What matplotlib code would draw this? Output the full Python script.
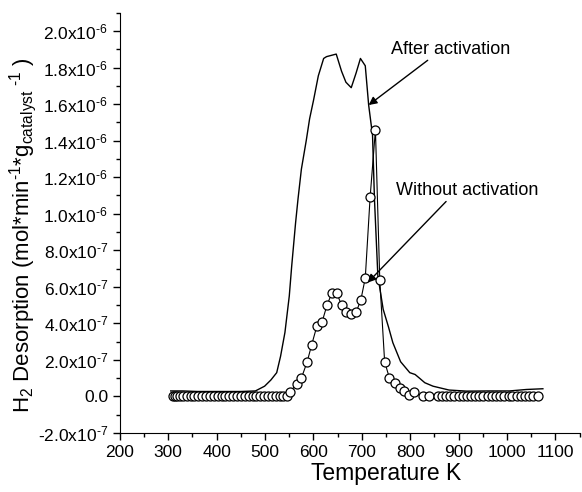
import matplotlib
matplotlib.use('Agg')
import matplotlib.pyplot as plt
from matplotlib.ticker import MultipleLocator, FuncFormatter

# 字体设置
plt.rcParams['font.family'] = ['Liberation Sans', 'DejaVu Sans']
plt.rcParams['mathtext.fontset'] = 'custom'
plt.rcParams['mathtext.rm'] = 'Liberation Sans'
plt.rcParams['mathtext.it'] = 'Liberation Sans'
plt.rcParams['mathtext.default'] = 'regular'
plt.rcParams['axes.unicode_minus'] = False

# 活化后 (实线)
after_T = [305, 330, 360, 400, 450, 480, 499, 512, 524, 532, 541, 550, 555, 563, 568, 575,
           585, 592, 600, 610, 621, 627, 647, 658, 667, 678, 688, 697, 707, 714, 722, 726,
           733, 744, 755, 764, 780, 799, 810, 819, 830, 847, 880, 916, 960, 1005, 1040, 1074]
after_H = [0.030e-6, 0.030e-6, 0.027e-6, 0.027e-6, 0.027e-6, 0.030e-6, 0.056e-6, 0.09e-6,
           0.13e-6, 0.22e-6, 0.35e-6, 0.55e-6, 0.714e-6, 0.95e-6, 1.08e-6, 1.244e-6,
           1.40e-6, 1.52e-6, 1.62e-6, 1.755e-6, 1.85e-6, 1.86e-6, 1.874e-6, 1.78e-6,
           1.72e-6, 1.69e-6, 1.77e-6, 1.85e-6, 1.81e-6, 1.595e-6, 1.43e-6, 1.08e-6,
           0.66e-6, 0.477e-6, 0.38e-6, 0.294e-6, 0.19e-6, 0.13e-6, 0.12e-6, 0.10e-6,
           0.075e-6, 0.056e-6, 0.035e-6, 0.029e-6, 0.030e-6, 0.030e-6, 0.038e-6, 0.042e-6]

# 未活化 (圆圈)
before_T = [310, 314, 319, 324, 330, 338, 346, 354, 362, 370, 378, 386, 394, 402, 410, 418,
            426, 434, 442, 450, 458, 466, 474, 482, 490, 498, 506, 514, 522, 530, 538, 545,
            552, 565, 575, 587, 596, 607, 618, 628, 638, 648, 658, 668, 677, 688, 698, 707,
            717, 728, 737, 747, 757, 768, 778, 788, 797, 807, 826, 838,
            857, 866, 874, 883, 891, 900, 909, 917, 926, 934, 943, 951, 960, 969, 977, 986,
            994, 1003, 1011, 1020, 1029, 1037, 1046, 1054, 1063]
before_H = [0.005e-6, 0.005e-6, 0.004e-6, 0.003e-6, 0.002e-6, 0, 0, 0, 0, 0, 0, 0, 0, 0, 0, 0,
            0, 0, 0, 0, 0, 0, 0, 0, 0, 0, 0, 0, 0, 0, 0, 0,
            0.024e-6, 0.07e-6, 0.10e-6, 0.19e-6, 0.28e-6, 0.385e-6, 0.41e-6, 0.50e-6,
            0.566e-6, 0.566e-6, 0.50e-6, 0.46e-6, 0.453e-6, 0.46e-6, 0.53e-6, 0.648e-6,
            1.09e-6, 1.46e-6, 0.635e-6, 0.19e-6, 0.10e-6, 0.075e-6, 0.048e-6, 0.03e-6,
            0.01e-6, 0.024e-6, 0, 0,
            0, 0, 0, 0, 0, 0, 0, 0, 0, 0, 0, 0, 0, 0, 0, 0,
            0, 0, 0, 0, 0, 0, 0, 0, 0]

fig = plt.figure(figsize=(5.82, 4.92), dpi=100)
ax = fig.add_axes([0.206, 0.12, 0.79, 0.854])

ax.plot(after_T, after_H, color='black', lw=1.0)
ax.plot(before_T, before_H, color='black', lw=0.8, marker='o', markersize=6.5,
        markerfacecolor='white', markeredgecolor='black', markeredgewidth=0.9)

ax.set_xlim(200, 1150)
ax.set_ylim(-2.0e-7, 2.1e-6)

ax.xaxis.set_major_locator(MultipleLocator(100))
ax.xaxis.set_minor_locator(MultipleLocator(50))
ax.yaxis.set_major_locator(MultipleLocator(2e-7))
ax.yaxis.set_minor_locator(MultipleLocator(1e-7))


def sci_fmt(v, pos):
    if abs(v) < 1e-12:
        return '0.0'
    exp = int(f'{v:e}'.split('e')[1])
    mant = v / 10 ** exp
    return f'{mant:.1f}x10$^{{\\text{{{exp}}}}}$'


ax.yaxis.set_major_formatter(FuncFormatter(sci_fmt))

for s in ['top', 'right']:
    ax.spines[s].set_visible(False)
ax.tick_params(which='major', direction='out', length=5, width=1, labelsize=12.5)
ax.tick_params(which='minor', direction='out', length=3, width=1)

ax.set_xlabel('Temperature K', fontsize=16.5)
ax.xaxis.set_label_coords(0.58, -0.068)
ax.set_ylabel('H$_2$ Desorption (mol*min$^{\\text{-1}}$*g$_{catalyst}$$^{\\text{ -1}}$ )', fontsize=16)
ax.yaxis.set_label_coords(-0.175, 0.47)

arrow = dict(arrowstyle='-|>', color='black', lw=1.0, mutation_scale=12, shrinkA=0, shrinkB=0)
ax.annotate('', xy=(714, 1.595e-6), xytext=(836, 1.84e-6), arrowprops=arrow)
ax.text(760, 1.90e-6, 'After activation', fontsize=13, va='center', ha='left')
ax.annotate('', xy=(712, 0.623e-6), xytext=(874, 1.067e-6), arrowprops=arrow)
ax.text(770, 1.125e-6, 'Without activation', fontsize=13, va='center', ha='left')

plt.savefig('out.png', dpi=100)
